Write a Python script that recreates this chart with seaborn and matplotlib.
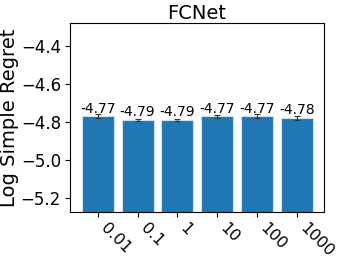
import numpy as np
import pandas as pd
import matplotlib
matplotlib.use("Agg")
import matplotlib.pyplot as plt
import seaborn as sns

# values
settings = ["0.01", "0.1", "1", "10", "100", "1000"]
log_regret = [-4.77, -4.79, -4.79, -4.77, -4.77, -4.78]
regret_err = [0.009, 0.007, 0.004, 0.008, 0.009, 0.009]

df = pd.DataFrame({"setting": settings, "regret": log_regret})

fig, ax = plt.subplots(figsize=(3.41, 2.62), dpi=100)
sns.barplot(data=df, x="setting", y="regret", color="#1f77b4", saturation=1,
            width=0.8, edgecolor="#cfe0ef", linewidth=0.8, errorbar=None, ax=ax)

# bars grow up from below the visible range instead of down from zero
base = -6.0
for patch, v in zip(ax.patches, log_regret):
    patch.set_y(base)
    patch.set_height(v - base)

ax.errorbar(np.arange(len(settings)), log_regret, yerr=regret_err, fmt="none",
            ecolor="#333333", elinewidth=0.8, capsize=2.5, capthick=0.8)

for i, v in enumerate(log_regret):
    ax.text(i, v + 0.003, "%.2f" % v, ha="center", va="bottom", fontsize=10)

ax.set_ylim(-5.275, -4.28)
ax.set_xlim(-0.7, 5.68)
ax.set_yticks([-5.2, -5.0, -4.8, -4.6, -4.4])
ax.set_title("FCNet", fontsize=14, pad=3)
ax.set_xlabel("")
ax.set_ylabel("Log Simple Regret", fontsize=14, labelpad=1)
ax.tick_params(axis="y", labelsize=12, pad=3)
ax.tick_params(axis="x", labelsize=11.5, pad=2.5)
plt.setp(ax.get_xticklabels(), rotation=-45, ha="left")

plt.subplots_adjust(left=0.205, right=0.95, top=0.912, bottom=0.191)
plt.savefig("out.png", dpi=100)
